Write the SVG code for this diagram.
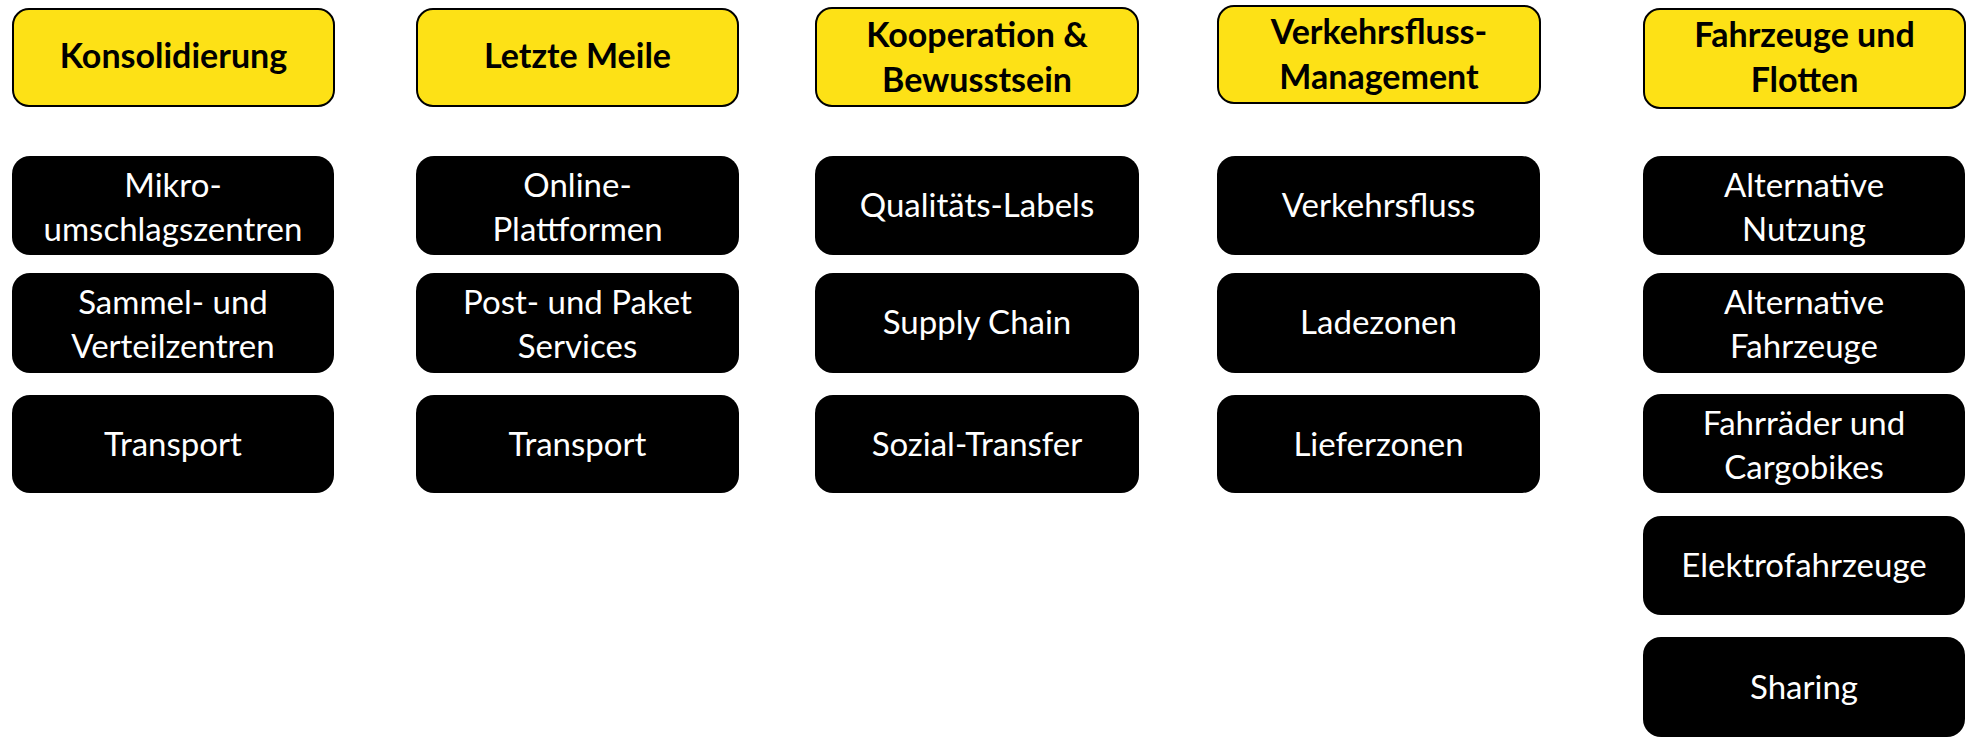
<svg xmlns="http://www.w3.org/2000/svg" width="1971" height="739" viewBox="0 0 1971 739">
<style>
.hdr{fill:#FDE116;stroke:#000;stroke-width:2}
.box{fill:#000}
.ht{font-family:Lato,"Liberation Sans",sans-serif;font-weight:bold;font-size:34px;fill:#000;text-anchor:middle}
.bt{font-family:Lato,"Liberation Sans",sans-serif;font-size:33px;fill:#fff;text-anchor:middle}
</style>
<rect width="1971" height="739" fill="#fff"/>
<g id="connectors"/>
<g id="h1"><rect class="hdr" x="13" y="9" width="321" height="97" rx="16"/><text class="ht" x="173.5" y="68">Konsolidierung</text></g>
<g id="h2"><rect class="hdr" x="417" y="9" width="321" height="97" rx="16"/><text class="ht" x="577.5" y="68">Letzte Meile</text></g>
<g id="h3"><rect class="hdr" x="816" y="8" width="322" height="98" rx="16"/><text class="ht" x="977" y="47">Kooperation &amp;</text><text class="ht" x="977" y="92">Bewusstsein</text></g>
<g id="h4"><rect class="hdr" x="1218" y="6" width="322" height="97" rx="16"/><text class="ht" x="1379" y="44">Verkehrsfluss-</text><text class="ht" x="1379" y="89">Management</text></g>
<g id="h5"><rect class="hdr" x="1644" y="9" width="321" height="99" rx="16"/><text class="ht" x="1804.5" y="47">Fahrzeuge und</text><text class="ht" x="1804.5" y="92">Flotten</text></g>

<g id="c1r1"><rect class="box" x="12" y="156" width="322" height="99" rx="18"/><text class="bt" x="173" y="197">Mikro-</text><text class="bt" x="173" y="241">umschlagszentren</text></g>
<g id="c1r2"><rect class="box" x="12" y="273" width="322" height="100" rx="18"/><text class="bt" x="173" y="314">Sammel- und</text><text class="bt" x="173" y="358">Verteilzentren</text></g>
<g id="c1r3"><rect class="box" x="12" y="395" width="322" height="98" rx="18"/><text class="bt" x="173" y="456">Transport</text></g>

<g id="c2r1"><rect class="box" x="416" y="156" width="323" height="99" rx="18"/><text class="bt" x="577.5" y="197">Online-</text><text class="bt" x="577.5" y="241">Plattformen</text></g>
<g id="c2r2"><rect class="box" x="416" y="273" width="323" height="100" rx="18"/><text class="bt" x="577.5" y="314">Post- und Paket</text><text class="bt" x="577.5" y="358">Services</text></g>
<g id="c2r3"><rect class="box" x="416" y="395" width="323" height="98" rx="18"/><text class="bt" x="577.5" y="456">Transport</text></g>

<g id="c3r1"><rect class="box" x="815" y="156" width="324" height="99" rx="18"/><text class="bt" x="977" y="217">Qualitäts-Labels</text></g>
<g id="c3r2"><rect class="box" x="815" y="273" width="324" height="100" rx="18"/><text class="bt" x="977" y="334">Supply Chain</text></g>
<g id="c3r3"><rect class="box" x="815" y="395" width="324" height="98" rx="18"/><text class="bt" x="977" y="456">Sozial-Transfer</text></g>

<g id="c4r1"><rect class="box" x="1217" y="156" width="323" height="99" rx="18"/><text class="bt" x="1378.5" y="217">Verkehrsfluss</text></g>
<g id="c4r2"><rect class="box" x="1217" y="273" width="323" height="100" rx="18"/><text class="bt" x="1378.5" y="334">Ladezonen</text></g>
<g id="c4r3"><rect class="box" x="1217" y="395" width="323" height="98" rx="18"/><text class="bt" x="1378.5" y="456">Lieferzonen</text></g>

<g id="c5r1"><rect class="box" x="1643" y="156" width="322" height="99" rx="18"/><text class="bt" x="1804" y="197">Alternative</text><text class="bt" x="1804" y="241">Nutzung</text></g>
<g id="c5r2"><rect class="box" x="1643" y="273" width="322" height="100" rx="18"/><text class="bt" x="1804" y="314">Alternative</text><text class="bt" x="1804" y="358">Fahrzeuge</text></g>
<g id="c5r3"><rect class="box" x="1643" y="394" width="322" height="99" rx="18"/><text class="bt" x="1804" y="435">Fahrräder und</text><text class="bt" x="1804" y="479">Cargobikes</text></g>
<g id="c5r4"><rect class="box" x="1643" y="516" width="322" height="99" rx="18"/><text class="bt" x="1804" y="577">Elektrofahrzeuge</text></g>
<g id="c5r5"><rect class="box" x="1643" y="637" width="322" height="100" rx="18"/><text class="bt" x="1804" y="699">Sharing</text></g>
</svg>
